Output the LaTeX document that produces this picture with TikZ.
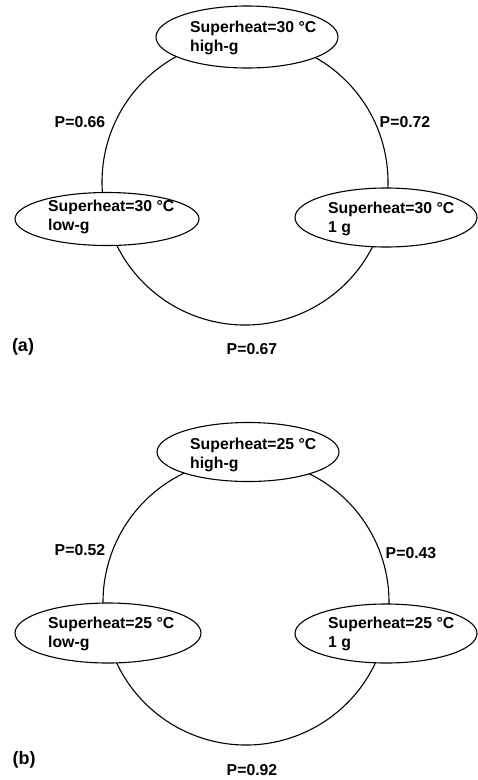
\documentclass[tikz,border=0pt]{standalone}
\usepackage{fontspec}
\setmainfont{Liberation Sans}
\usetikzlibrary{shapes.geometric}
\begin{document}
\begin{tikzpicture}[x=1pt,y=-1pt,
  every node/.style={font=\fontsize{15.8}{19}\selectfont\bfseries},
  ell/.style={draw,ellipse,fill=white,line width=1.1pt,inner sep=0pt,minimum width=182pt,minimum height=59pt},
  txt/.style={anchor=west,align=left,inner sep=0pt},
  lab/.style={inner sep=0pt},
  pan/.style={inner sep=0pt,font=\fontsize{18}{20}\selectfont\bfseries},
  conn/.style={line width=1.1pt}]
\useasboundingbox (0,0) rectangle (478,780);
% ---------- panel (a) ----------
\coordinate (ca) at (245,182);
\draw[conn] (ca) ++(165:143) arc[start angle=165,end angle=270,radius=143];
\draw[conn] (ca) ++(15.5:143) arc[start angle=15.5,end angle=165,radius=143];
\draw[conn] (ca) ++(270:143) arc[start angle=270,end angle=375.5,radius=143];
\node[ell,minimum height=62pt] (at) at (247,37) {};
\node[txt] (att) at (190,37.5) {Superheat=30 °C\\high-g};
\node[ell,minimum width=184pt,minimum height=53pt] (al) at (107,219) {};
\node[txt] (alt) at (48,217) {Superheat=30 °C\\low-g};
\node[ell] (ag) at (386,217.5) {};
\node[txt] (agt) at (328,218.5) {Superheat=30 °C\\1 g};
\node[lab] (p1) at (80,122) {P=0.66};
\node[lab] (p2) at (405,122) {P=0.72};
\node[lab] (p3) at (252,349) {P=0.67};
\node[pan] (la) at (23,347) {(a)};
% ---------- panel (b) ----------
\coordinate (cb) at (246,602);
\draw[conn] (cb) ++(165:143) arc[start angle=165,end angle=270,radius=143];
\draw[conn] (cb) ++(15.5:143) arc[start angle=15.5,end angle=165,radius=143];
\draw[conn] (cb) ++(270:143) arc[start angle=270,end angle=375.5,radius=143];
\node[ell] (bt) at (248,452) {};
\node[txt] (btt) at (190,454.5) {Superheat=25 °C\\high-g};
\node[ell,minimum width=186pt,minimum height=60pt] (bl) at (108,633) {};
\node[txt] (blt) at (48,634) {Superheat=25 °C\\low-g};
\node[ell] (bg) at (386,633.5) {};
\node[txt] (bgt) at (328,634) {Superheat=25 °C\\1 g};
\node[lab] (q1) at (80,550) {P=0.52};
\node[lab] (q2) at (411,553) {P=0.43};
\node[lab] (q3) at (252,770) {P=0.92};
\node[pan] (lb) at (24,760) {(b)};
\end{tikzpicture}
\end{document}
